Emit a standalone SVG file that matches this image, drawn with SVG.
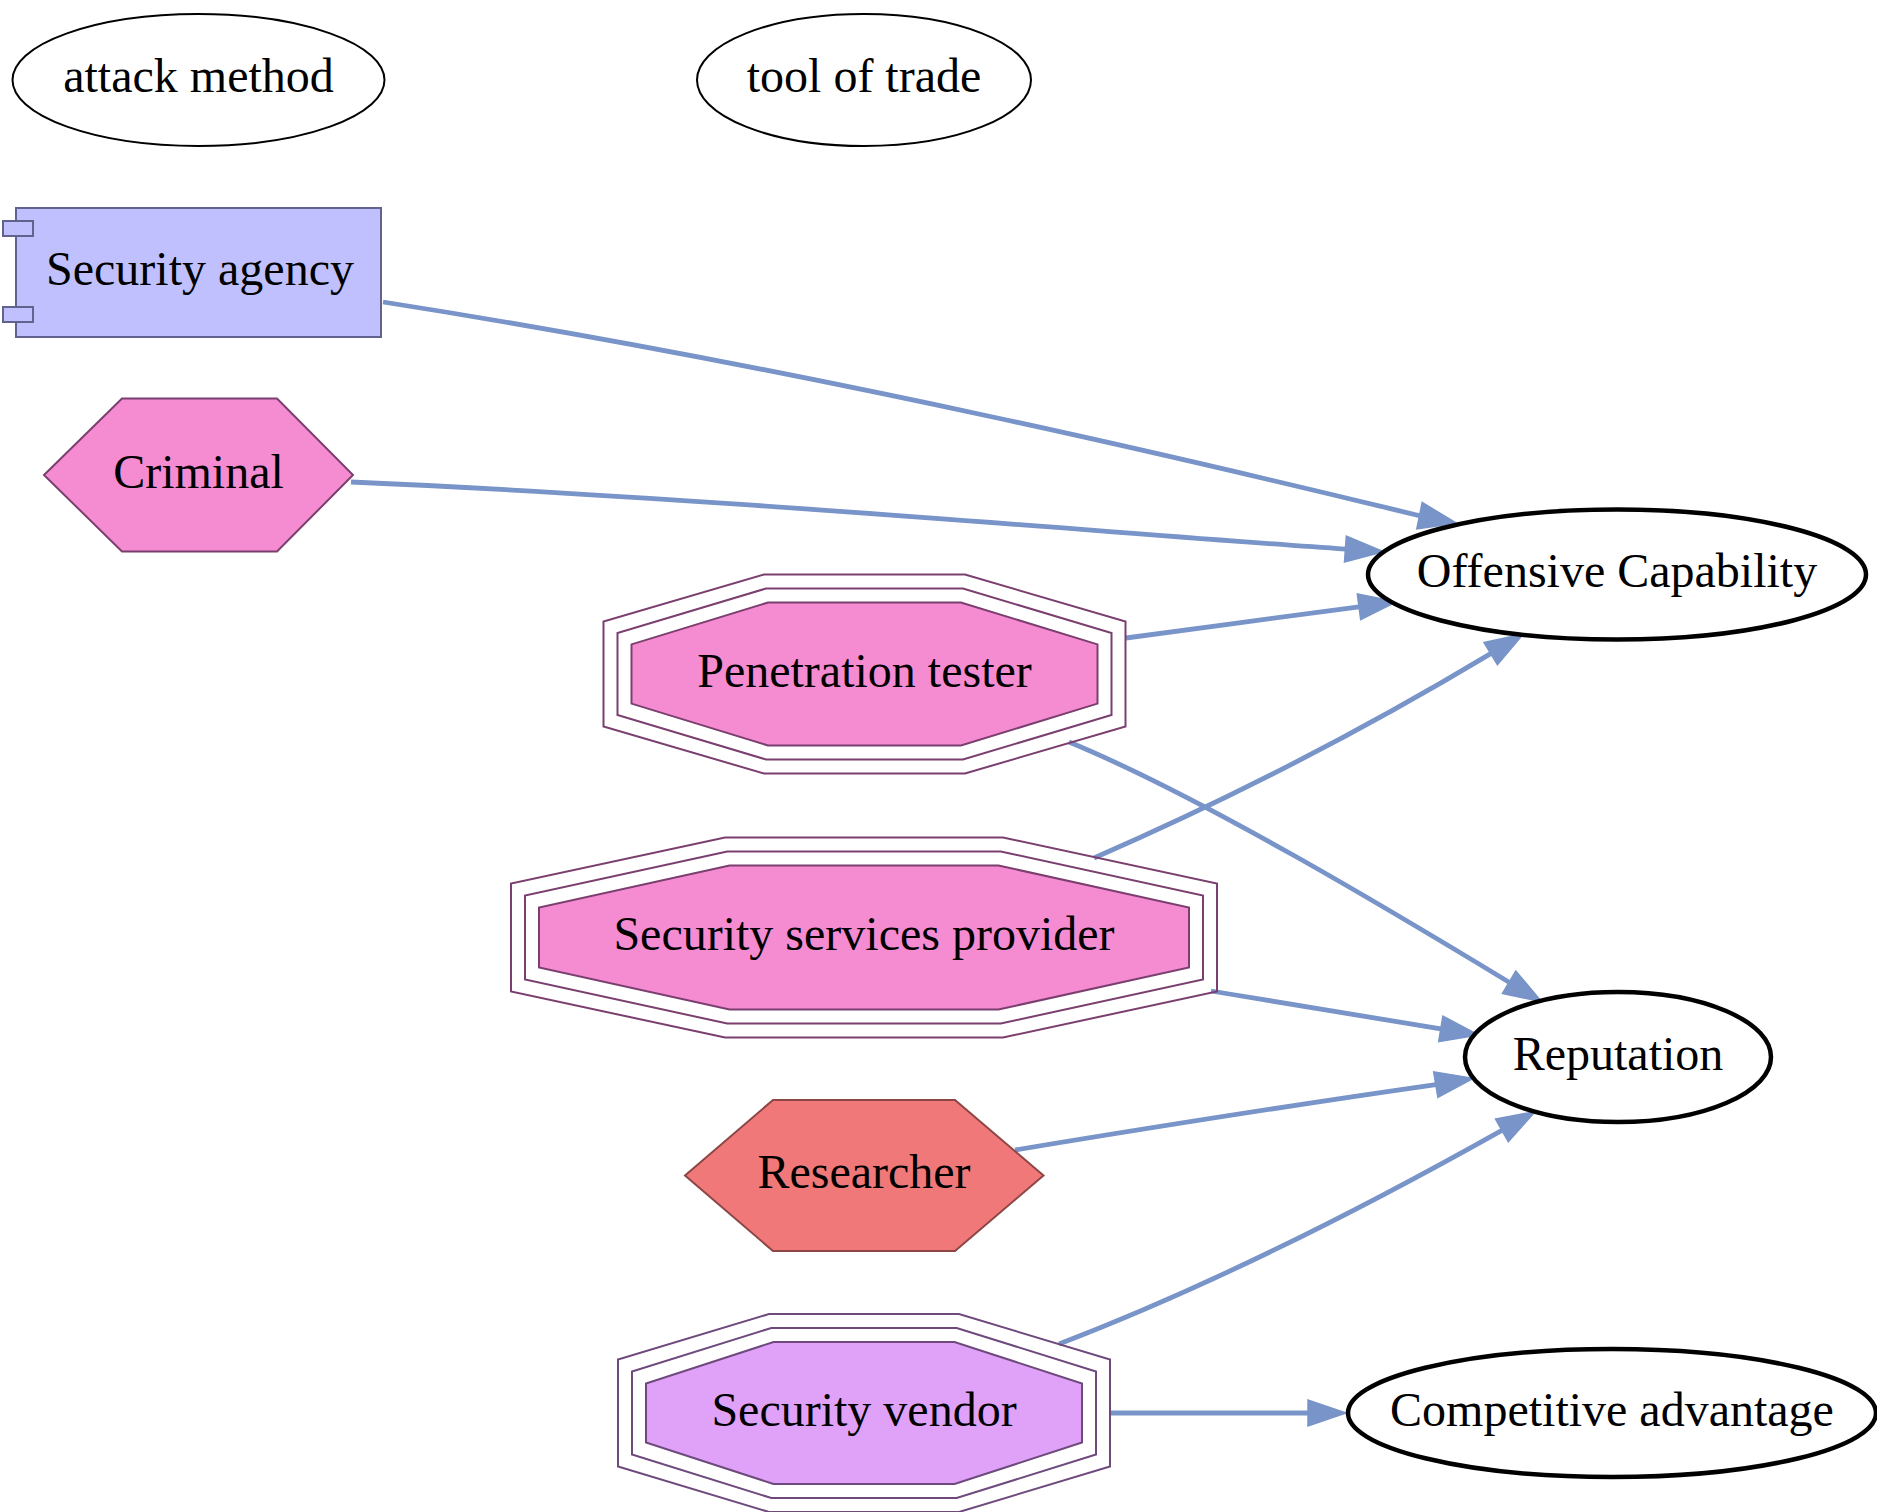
<svg xmlns="http://www.w3.org/2000/svg" width="1877" height="1512" viewBox="0 0 1877 1512">
<style>
text{font-family:"Liberation Serif","Times New Roman",serif;font-size:48px;fill:#000;text-anchor:middle}
.thin{fill:#fff;stroke:#000;stroke-width:2}
.thick{fill:#fff;stroke:#000;stroke-width:4.5}
.edge{fill:none;stroke:#7894c8;stroke-width:4.8}
.head{fill:#7894c8;stroke:#7894c8;stroke-width:1.5}
.pinko{fill:none;stroke:#7a3f6e;stroke-width:2}
.pinki{fill:#f58cd2;stroke:#7a3f6e;stroke-width:2}
.vendo{fill:none;stroke:#6e4a7c;stroke-width:2}
.vendi{fill:#e0a2f8;stroke:#6e4a7c;stroke-width:2}
</style>
<rect width="1877" height="1512" fill="#fff"/>
<g id="connectors">
<path class="edge" d="M383,302 C850,375 1300,487 1419.5,515.7"/>
<polygon class="head" points="1456.7,523.3 1416.8,528.9 1422.2,502.5"/>
<path class="edge" d="M351,482 C700,497 1100,532 1345.4,549.1"/>
<polygon class="head" points="1383.3,551.7 1344.5,562.1 1346.3,536.1"/>
<path class="edge" d="M1126,638 C1200,628 1290,616 1359,606.8"/>
<polygon class="head" points="1396.7,601.7 1360.7,619.7 1357.3,593.9"/>
<path class="edge" d="M1094,858 C1250,790 1390,714 1490.7,653.6"/>
<polygon class="head" points="1523.3,634 1497.4,664.7 1484,642.5"/>
<path class="edge" d="M1069,742 C1200,796 1390,910 1509.1,982.2"/>
<polygon class="head" points="1541.7,1001.7 1502.4,993.4 1515.8,971"/>
<path class="edge" d="M1211,991 C1290,1004 1370,1017 1440.8,1028.9"/>
<polygon class="head" points="1478.3,1035 1438.7,1041.7 1442.9,1016.1"/>
<path class="edge" d="M1015,1150 C1160,1126 1300,1104 1435.8,1084.6"/>
<polygon class="head" points="1473.3,1078.3 1437.9,1097.4 1433.7,1071.8"/>
<path class="edge" d="M1059,1344 C1200,1290 1360,1210 1501.9,1130.3"/>
<polygon class="head" points="1535,1111.7 1508.3,1141.6 1495.5,1119"/>
<path class="edge" d="M1111,1413 L1308,1413"/>
<polygon class="head" points="1346,1413 1308,1400 1308,1426"/>
</g>
<g id="attack-method">
<ellipse class="thin" cx="198.5" cy="80" rx="186" ry="66"/>
<text x="198.5" y="92">attack method</text>
</g>
<g id="tool-of-trade">
<ellipse class="thin" cx="864" cy="80" rx="167" ry="66"/>
<text x="864" y="92">tool of trade</text>
</g>
<g id="security-agency">
<rect x="16" y="208" width="365" height="129" fill="#c0c0ff" stroke="#62628e" stroke-width="2"/>
<rect x="3" y="221" width="30" height="15" fill="#c0c0ff" stroke="#62628e" stroke-width="2"/>
<rect x="3" y="307" width="30" height="15" fill="#c0c0ff" stroke="#62628e" stroke-width="2"/>
<text x="200" y="285">Security agency</text>
</g>
<g id="criminal">
<polygon points="44,475 122,398.5 277,398.5 353,475 277,551.5 122,551.5" fill="#f58cd2" stroke="#7a3f6e" stroke-width="2"/>
<text x="198.5" y="488">Criminal</text>
</g>
<g id="penetration-tester">
<polygon class="pinko" points="764,574.5 965,574.5 1125.5,621.5 1125.5,726.5 965,773.5 764,773.5 603.5,726.5 603.5,621.5"/>
<polygon class="pinko" points="766,588.5 963,588.5 1111.5,633 1111.5,715 963,759.5 766,759.5 617.5,715 617.5,633"/>
<polygon class="pinki" points="768,602.5 961,602.5 1097.5,644.4 1097.5,703.6 961,745.5 768,745.5 631.5,703.6 631.5,644.4"/>
<text x="864.5" y="687">Penetration tester</text>
</g>
<g id="security-services-provider">
<polygon class="pinko" points="725,837.5 1003,837.5 1217,883.5 1217,991.5 1003,1037.5 725,1037.5 511,991.5 511,883.5"/>
<polygon class="pinko" points="727.2,851.5 1000.8,851.5 1203,895.5 1203,979.5 1000.8,1023.5 727.2,1023.5 525,979.5 525,895.5"/>
<polygon class="pinki" points="729.5,865.5 998.5,865.5 1189,907.5 1189,967.5 998.5,1009.5 729.5,1009.5 539,967.5 539,907.5"/>
<text x="864" y="950">Security services provider</text>
</g>
<g id="researcher">
<polygon points="685,1175.5 773,1100 955,1100 1043.5,1175.5 955,1251 773,1251" fill="#f07878" stroke="#8c4646" stroke-width="2"/>
<text x="864" y="1188">Researcher</text>
</g>
<g id="security-vendor">
<polygon class="vendo" points="769,1314 959,1314 1110,1359.5 1110,1466.5 959,1512 769,1512 618,1466.5 618,1359.5"/>
<polygon class="vendo" points="771.3,1328 956.7,1328 1096,1371.5 1096,1454.5 956.7,1498 771.3,1498 632,1454.5 632,1371.5"/>
<polygon class="vendi" points="773.5,1342 954.5,1342 1082,1383.5 1082,1442.5 954.5,1484 773.5,1484 646,1442.5 646,1383.5"/>
<text x="864" y="1426">Security vendor</text>
</g>
<g id="offensive-capability">
<ellipse class="thick" cx="1617" cy="574.5" rx="249" ry="65"/>
<text x="1617" y="587">Offensive Capability</text>
</g>
<g id="reputation">
<ellipse class="thick" cx="1618" cy="1057" rx="153" ry="65"/>
<text x="1618" y="1070">Reputation</text>
</g>
<g id="competitive-advantage">
<ellipse class="thick" cx="1612" cy="1413" rx="264" ry="64"/>
<text x="1612" y="1426">Competitive advantage</text>
</g>
</svg>
